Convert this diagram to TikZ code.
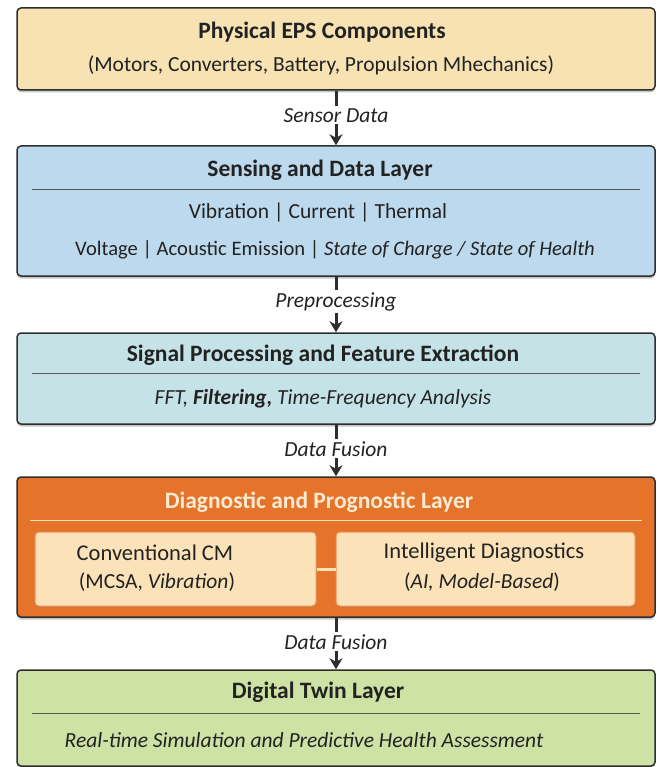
\documentclass[tikz,border=0pt]{standalone}
\usepackage{fontspec}
\setmainfont{Carlito}
\usetikzlibrary{arrows.meta,shadows}
\definecolor{tanfill}{HTML}{F7E2B3}
\definecolor{bluefill}{HTML}{BDD9EE}
\definecolor{tealfill}{HTML}{C5E2E7}
\definecolor{orangefill}{HTML}{E5732A}
\definecolor{creamfill}{HTML}{FBE2B8}
\definecolor{creamtext}{HTML}{FCEBD2}
\definecolor{greenfill}{HTML}{CDE2A4}
\definecolor{ink}{HTML}{222222}
\definecolor{edge}{HTML}{2E2E2E}
\tikzset{
  layer/.style={draw=edge, line width=1.5pt, rounded corners=4pt, minimum width=638pt,
    inner sep=0pt, drop shadow={shadow xshift=0pt, shadow yshift=-2.5pt, opacity=0.45}},
  inner/.style={draw=orangefill!70!creamfill, line width=1pt, fill=creamfill, rounded corners=4pt,
    inner sep=0pt, minimum height=74pt, drop shadow={shadow xshift=0pt, shadow yshift=-1.5pt, opacity=0.3}},
  ttl/.style={font=\fontsize{23.5}{28}\selectfont\bfseries, text=ink, inner sep=0pt},
  body/.style={font=\fontsize{21.5}{26}\selectfont, text=ink, inner sep=0pt},
  lbl/.style={font=\fontsize{21.5}{26}\selectfont\itshape, text=ink, fill=white, inner sep=2pt},
  rule/.style={draw=edge!80, line width=1pt},
  flow/.style={draw=edge, line width=3pt, -{Stealth[length=11pt,width=13pt]}}
}
\begin{document}
\begin{tikzpicture}[x=1pt,y=-1pt]
\useasboundingbox (0,0) rectangle (660,767);
% boxes
\node[layer, fill=tanfill, minimum height=82pt] (b1) at (336,49) {};
\node[layer, fill=bluefill, minimum height=130pt] (b2) at (336,211) {};
\node[layer, fill=tealfill, minimum height=91pt] (b3) at (336,378.5) {};
\node[layer, fill=orangefill, minimum height=140pt] (b4) at (336,547) {};
\node[layer, fill=greenfill, minimum height=96pt] (b5) at (336,718) {};
% box 1
\node[ttl] (t1) at (322,32) {Physical EPS Components};
\node[body] (s1) at (321,65) {(Motors, Converters, Battery, Propulsion Mhechanics)};
% box 2
\node[ttl] (t2) at (320,170) {Sensing and Data Layer};
\draw[rule] (32,190) -- (640,190);
\node[body] (s2a) at (318,213) {Vibration | Current | Thermal};
\node[body, font=\fontsize{20.6}{25}\selectfont] (s2b) at (335,250) {Voltage | Acoustic Emission | \textit{State of Charge / State of Health}};
% box 3
\node[ttl] (t3) at (323,355) {Signal Processing and Feature Extraction};
\draw[rule] (32,373) -- (640,373);
\node[body] (s3) at (323,399) {\textit{FFT, }\textbf{\textit{Filtering,}}\textit{ Time-Frequency Analysis}};
% box 4
\node[ttl, text=creamtext] (t4) at (319,502) {Diagnostic and Prognostic Layer};
\draw[draw=creamfill, line width=1pt] (30,520) -- (642,520);
\node[inner, minimum width=281pt] (cm) at (175.5,569) {};
\node[inner, minimum width=299pt] (id) at (485.5,569) {};
\draw[draw=creamfill, line width=3pt] (cm.east) -- (id.west);
\node[body, font=\fontsize{22.5}{27}\selectfont] (cm1) at (155,553) {Conventional CM};
\node[body] (cm2) at (157,582) {(MCSA, \textit{Vibration})};
\node[body, font=\fontsize{22.5}{27}\selectfont] (id1) at (484,553) {Intelligent Diagnostics};
\node[body] (id2) at (482,582) {(\textit{AI, Model-Based})};
% box 5
\node[ttl] (t5) at (318,692) {Digital Twin Layer};
\draw[rule] (32,713) -- (640,713);
\node[body] (s5) at (304,740) {\textit{Real-time Simulation and Predictive Health Assessment}};
% connectors
\draw[flow] (b1.south) -- node[lbl, pos=0.45] {Sensor Data} (b2.north);
\draw[flow] (b2.south) -- node[lbl, pos=0.45] {Preprocessing} (b3.north);
\draw[flow] (b3.south) -- node[lbl, pos=0.47] {Data Fusion} (b4.north);
\draw[flow] (b4.south) -- node[lbl, pos=0.47] {Data Fusion} (b5.north);
\end{tikzpicture}
\end{document}
